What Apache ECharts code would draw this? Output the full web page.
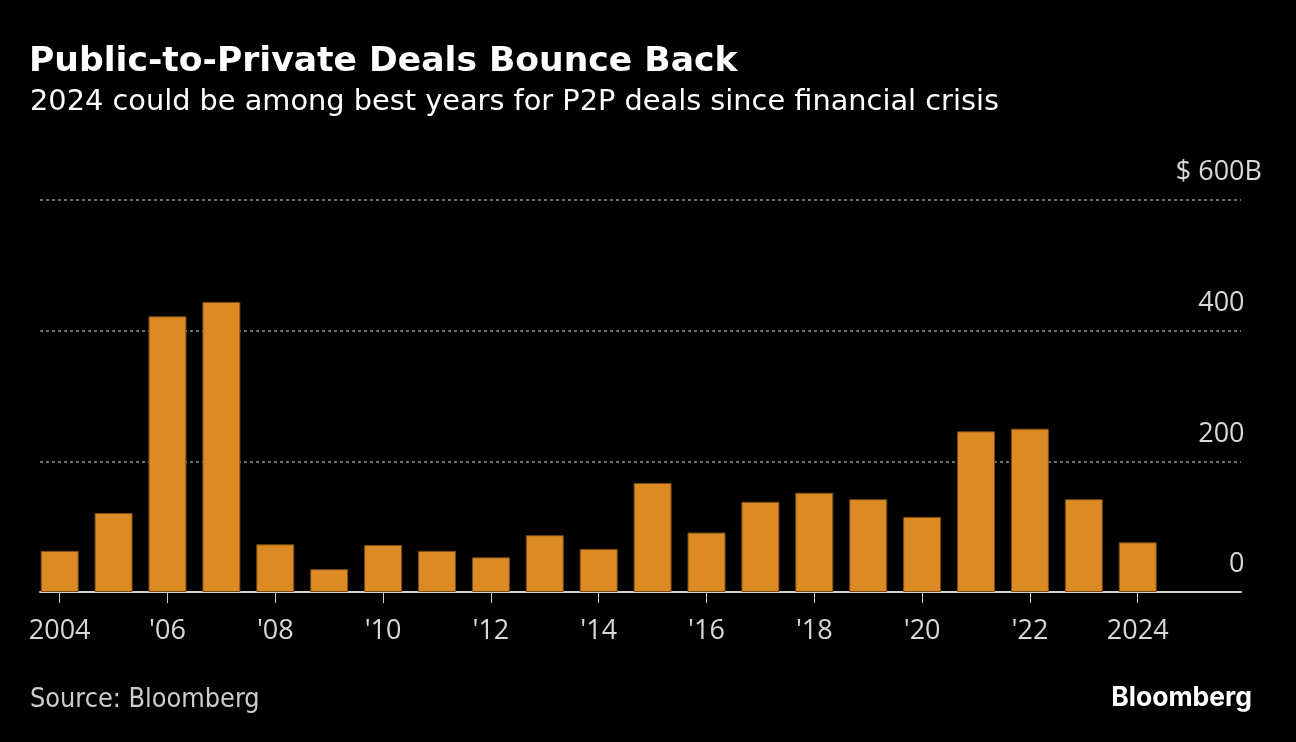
<!DOCTYPE html>
<html>
<head>
<meta charset="utf-8">
<script src="https://cdn.jsdelivr.net/npm/echarts@6/dist/echarts.min.js"></script>
<style>
html,body{margin:0;padding:0;background:#000;}
#chart{width:1296px;height:742px;}
</style>
</head>
<body>
<div id="chart"></div>
<script>
// Data (USD billions)
const years = [2004,2005,2006,2007,2008,2009,2010,2011,2012,2013,2014,2015,2016,2017,2018,2019,2020,2021,2022,2023,2024];
const dealValues = [63,121,422,444,73,35,72,63,53,87,66,167,91,138,152,142,115,246,250,142,76];
const tickYears = [2004,2006,2008,2010,2012,2014,2016,2018,2020,2022,2024];
const tickLabels = ['2004',"'06","'08","'10","'12","'14","'16","'18","'20","'22",'2024'];

const chart = echarts.init(document.getElementById('chart'));
const condensed = "'DejaVu Sans Condensed', 'DejaVu Sans', sans-serif";
const regular = "'DejaVu Sans', sans-serif";
const labelFont = "'Open Sans', 'Noto Sans', sans-serif";

chart.setOption({
  backgroundColor: '#000000',
  animation: false,
  title: [
    {text: 'Public-to-Private Deals Bounce Back', left: 24, top: 40,
     textStyle: {color: '#ffffff', fontSize: 34.6, fontWeight: 'bold', fontFamily: regular}},
    {text: '2024 could be among best years for P2P deals since financial crisis', left: 25, top: 83,
     textStyle: {color: '#ffffff', fontSize: 28.8, fontWeight: 'normal', fontFamily: regular}},
    {text: 'Source: Bloomberg', left: 25, top: 682,
     textStyle: {color: '#cccccc', fontSize: 26.8, fontWeight: 'normal', fontFamily: condensed}},
    {text: 'Bloomberg', right: 39, top: 680,
     textStyle: {color: '#ffffff', fontSize: 26.5, fontWeight: 'bold', fontFamily: "Inter, 'Noto Sans', sans-serif"}}
  ],
  grid: {left: 40, right: 55, top: 200, bottom: 150, containLabel: false},
  xAxis: {
    type: 'value',
    min: 2003.635,
    max: 2025.916,
    splitLine: {show: false},
    axisLine: {show: true, onZero: false, lineStyle: {color: '#d0d0d0', width: 2}},
    axisTick: {show: true, customValues: tickYears, length: 11, lineStyle: {color: '#cccccc', width: 1}},
    axisLabel: {
      customValues: tickYears,
      margin: 26,
      color: '#d8d8d8',
      fontSize: 27,
      fontFamily: labelFont,
      formatter: function (v) { return tickLabels[tickYears.indexOf(Math.round(v))] || ''; }
    }
  },
  yAxis: {
    type: 'value',
    position: 'right',
    min: 0, max: 600, interval: 200,
    axisLine: {show: false},
    axisTick: {show: false},
    splitLine: {show: true, lineStyle: {color: '#6e6e6e', width: 2, type: [3, 3]}},
    axisLabel: {
      inside: true,
      margin: -21,
      verticalAlign: 'bottom',
      padding: [0, 0, 14, 0],
      color: '#d8d8d8',
      fontSize: 27,
      fontFamily: labelFont,
      formatter: function (v) { return v === 600 ? '$ 600B' : v + '{h|B}'; },
      rich: {h: {fontSize: 27, fontFamily: labelFont, color: 'rgba(0,0,0,0)'}}
    }
  },
  series: [{
    type: 'bar',
    barWidth: 38,
    data: years.map((y, i) => [y, dealValues[i]]),
    itemStyle: {color: '#db8a24', borderColor: '#7a4c12', borderWidth: 1},
    z: 3
  }]
});
</script>
</body>
</html>
